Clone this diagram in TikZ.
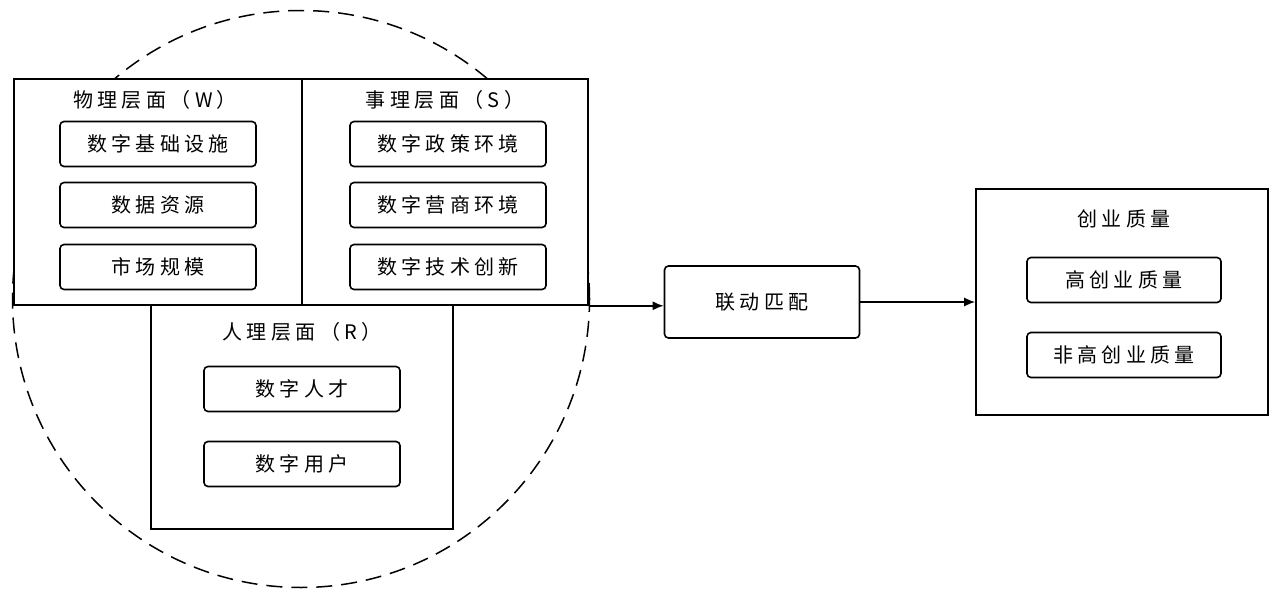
\documentclass[tikz,border=0pt]{standalone}
\usepackage{fontspec}
\setmainfont[LetterSpace=22]{Noto Sans CJK SC}
\usepackage{tikz}
\usetikzlibrary{arrows.meta}
\usetikzlibrary{positioning}

\begin{document}
\begin{tikzpicture}[x=1pt,y=-1pt,
	panel/.style={draw,fill=white,line width=1.6pt,inner sep=0pt},
	item/.style={draw,rounded corners=4pt,line width=1.6pt,minimum width=196pt,minimum height=45pt,font=\fontsize{20}{24}\selectfont},
	title/.style={font=\fontsize{20}{24}\selectfont},
	flow/.style={-{Latex[length=11pt,width=9pt]},line width=1.6pt}]
	 \useasboundingbox (0,0) rectangle (1278,594);
	 \node at (301,299) [circle,draw,line width=1.5pt,dash pattern=on 16pt off 9pt,minimum size=577pt] (ring) {};

	 \node at (158,192) [panel,minimum width=288pt,minimum height=226pt] (W) {};
	 \node at (445,192) [panel,minimum width=286pt,minimum height=226pt] (S) {};
	 \node at (302,417) [panel,minimum width=302pt,minimum height=224pt] (R) {};

	 \node at (155,100) [title] (Wt) {物理层面（W）};
	 \node at (158,144) [item] (infra) {数字基础设施};
	 \node at (158,205) [item] (data) {数据资源};
	 \node at (158,267) [item] (market) {市场规模};

	 \node at (445,100) [title] (St) {事理层面（S）};
	 \node at (448,144) [item] (policy) {数字政策环境};
	 \node at (448,205) [item] (business) {数字营商环境};
	 \node at (448,267) [item] (tech) {数字技术创新};

	 \node at (302,332) [title] (Rt) {人理层面（R）};
	 \node at (302,389) [item] (talent) {数字人才};
	 \node at (302,464) [item] (user) {数字用户};

	 \node at (762,302) [item,minimum width=195pt,minimum height=72pt] (link) {联动匹配};

	 \node at (1122,302) [panel,minimum width=292pt,minimum height=226pt] (Q) {};
	 \node at (1124,219) [title] (Qt) {创业质量};
	 \node at (1124,280) [item,minimum width=194pt] (high) {高创业质量};
	 \node at (1124,355) [item,minimum width=194pt] (nonhigh) {非高创业质量};

	 \draw[flow] (S.south east) -- (S.south east -| link.west);
	 \draw[flow] (link) -- (Q);

\end{tikzpicture}
\end{document}
